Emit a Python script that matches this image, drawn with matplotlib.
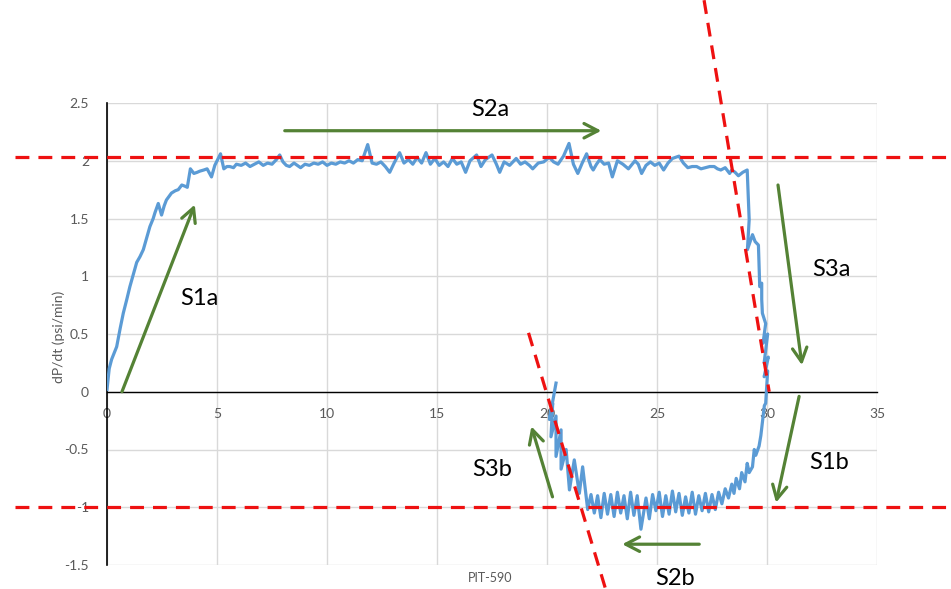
import matplotlib
matplotlib.use("Agg")
import matplotlib.pyplot as plt

plt.rcParams['font.family'] = ['Lato', 'DejaVu Sans']
plt.rcParams['lines.scale_dashes'] = False

# ---- data -------------------------------------------------------------
rise_x = [0, 0.1, 0.21, 0.44, 0.6, 0.74, 0.9, 1.04, 1.2, 1.35, 1.5, 1.65, 1.8, 1.95, 2.1,
          2.18, 2.33, 2.48, 2.6, 2.7, 2.93, 3.1, 3.24, 3.4, 3.54, 3.65, 3.79, 3.95, 4.1,
          4.22, 4.4, 4.55, 4.75, 4.9, 5.16, 5.31, 5.45, 5.58, 5.75, 5.88]
rise_y = [0.02, 0.2, 0.28, 0.39, 0.55, 0.68, 0.8, 0.91, 1.02, 1.12, 1.17, 1.23, 1.33, 1.43, 1.5,
          1.55, 1.63, 1.53, 1.61, 1.66, 1.72, 1.74, 1.75, 1.79, 1.78, 1.77, 1.93, 1.89, 1.9,
          1.91, 1.92, 1.93, 1.86, 1.96, 2.06, 1.93, 1.95, 1.95, 1.94, 1.97]

plateau_x = [6.1, 6.3, 6.5, 6.7, 6.9, 7.1, 7.3, 7.5, 7.7, 7.85, 8.0, 8.15, 8.3, 8.5, 8.65, 8.8,
             9.0, 9.2, 9.4, 9.6, 9.8, 10.0, 10.2, 10.4, 10.6, 10.8, 11.0, 11.2, 11.4, 11.6,
             11.85, 12.05, 12.25, 12.45, 12.65, 12.85, 13.05, 13.3, 13.5, 13.7, 13.9, 14.1,
             14.3, 14.5, 14.7, 14.9, 15.1, 15.3, 15.5, 15.7, 15.9, 16.1, 16.3, 16.5, 16.8,
             17.0, 17.2, 17.5, 17.7, 17.85, 18.05, 18.3, 18.6, 18.8, 19.0, 19.2, 19.35, 19.6,
             19.85, 20.1, 20.3, 20.5, 20.75, 21.0, 21.2, 21.4, 21.6, 21.8, 22.0, 22.1, 22.25,
             22.4, 22.6, 22.8, 22.97, 23.2, 23.45, 23.7, 24.0, 24.15, 24.3, 24.5, 24.7, 24.9,
             25.1, 25.3, 25.5, 25.7, 26.0, 26.2, 26.4, 26.6, 26.8, 27.0, 27.2, 27.4, 27.6,
             27.75, 27.9, 28.1, 28.3, 28.4, 28.55, 28.7, 28.9, 29.1]
plateau_y = [1.96, 1.98, 1.95, 1.97, 1.99, 1.96, 1.98, 1.97, 2.01, 2.05, 1.99, 1.96, 1.95, 1.98,
             1.96, 1.94, 1.97, 1.96, 1.98, 1.97, 1.99, 1.96, 1.98, 1.97, 1.99, 1.98, 2.00, 1.98,
             2.01, 2.00, 2.14, 1.98, 1.97, 1.99, 1.95, 1.90, 1.98, 2.07, 1.98, 2.01, 1.97, 2.03,
             1.98, 2.07, 1.97, 2.02, 1.96, 1.99, 1.95, 2.02, 1.97, 1.99, 1.90, 2.00, 2.05, 1.95,
             2.01, 2.05, 1.97, 1.90, 1.99, 1.96, 2.02, 1.97, 1.99, 1.96, 1.93, 1.98, 1.99, 2.03,
             1.99, 1.97, 2.04, 2.15, 1.97, 1.89, 1.98, 2.06, 1.95, 1.92, 1.97, 2.01, 1.97, 1.98,
             1.86, 2.00, 1.97, 1.93, 2.00, 1.97, 1.89, 1.96, 1.99, 1.96, 1.98, 1.92, 1.98, 2.02,
             2.04, 1.98, 1.94, 1.95, 1.95, 1.93, 1.94, 1.95, 1.95, 1.93, 1.92, 1.94, 1.89, 1.92,
             1.90, 1.87, 1.90, 1.92]

drop_x = [29.19, 29.11, 29.34, 29.46, 29.61, 29.67, 29.76, 29.76, 29.79, 29.94, 29.82, 30.03,
          29.87, 30.06, 29.87, 30.03, 29.94, 29.88, 29.80, 29.72, 29.64, 29.49, 29.42, 29.34,
          29.19, 29.10, 29.0, 28.85, 28.75, 28.6, 28.5, 28.4, 28.25, 28.1]
drop_y = [1.49, 1.23, 1.36, 1.30, 1.27, 0.91, 0.94, 0.80, 0.68, 0.59, 0.42, 0.50, 0.25, 0.30,
          0.13, 0.18, -0.10, -0.12, -0.25, -0.38, -0.47, -0.55, -0.50, -0.65, -0.70, -0.62,
          -0.78, -0.70, -0.84, -0.75, -0.88, -0.80, -0.92, -0.84]

bottom_x = [27.95, 27.8, 27.65, 27.5, 27.35, 27.2, 27.05, 26.9, 26.75, 26.6, 26.45, 26.3, 26.15,
            26.0, 25.85, 25.7, 25.55, 25.4, 25.25, 25.1, 24.95, 24.8, 24.65, 24.5, 24.27, 24.1,
            23.95, 23.8, 23.65, 23.5, 23.35, 23.2, 23.05, 22.9, 22.75, 22.6, 22.45, 22.3, 22.15,
            22.0, 21.85]
bottom_y = [-0.97, -0.87, -1.02, -0.89, -1.04, -0.88, -1.03, -0.90, -1.06, -0.87, -1.05, -0.91,
            -1.07, -0.88, -1.04, -0.86, -1.06, -0.90, -1.08, -0.87, -1.03, -0.89, -1.10, -0.92,
            -1.19, -0.90, -1.07, -0.87, -1.10, -0.90, -1.05, -0.87, -1.08, -0.89, -1.06, -0.88,
            -1.09, -0.90, -1.05, -0.89, -1.02]

return_x = [21.62, 21.47, 21.24, 21.02, 20.87, 20.64, 20.64, 20.41, 20.41, 20.18, 20.26, 20.11, 20.41]
return_y = [-0.65, -0.88, -0.59, -0.85, -0.50, -0.67, -0.33, -0.56, -0.21, -0.39, -0.10, -0.24, 0.075]

x_ticks = [0, 5, 10, 15, 20, 25, 30, 35]
y_ticks = [-1.5, -1, -0.5, 0, 0.5, 1, 1.5, 2, 2.5]
y_tick_labels = ['-1.5', '-1', '-0.5', '0', '0.5', '1', '1.5', '2', '2.5']

# reference (red dashed) lines
h_levels = [2.03, -1.0]
diag1_x = [27.14, 30.1]
diag1_y = [3.39, 0.0]
diag2_x = [19.16, 22.65]
diag2_y = [0.51, -1.70]

# annotations: (label, label_x, label_y, arrow start, arrow end)
stage_labels = ['S1a', 'S2a', 'S3a', 'S1b', 'S2b', 'S3b']
label_x = [4.2, 17.4, 32.95, 32.8, 25.8, 17.5]
label_y = [0.81, 2.44, 1.06, -0.61, -1.62, -0.67]
arrow_start = [(0.68, 0.0), (8.08, 2.26), (30.5, 1.79), (31.46, -0.04), (26.92, -1.32), (20.25, -0.91)]
arrow_end = [(3.99, 1.62), (22.47, 2.26), (31.59, 0.23), (30.41, -0.96), (23.42, -1.32), (19.29, -0.30)]

# ---- figure -----------------------------------------------------------
W, H = 951, 589
fig = plt.figure(figsize=(W / 100, H / 100), dpi=100)
ax = fig.add_axes([107 / W, 1 - 565 / H, 770 / W, 462 / H])

xs = rise_x + plateau_x + drop_x + bottom_x + return_x
ys = rise_y + plateau_y + drop_y + bottom_y + return_y

ax.set_xlim(0, 35)
ax.set_ylim(-1.5, 2.5)
ax.set_xticks(x_ticks)
ax.set_yticks(y_ticks)
ax.set_yticklabels(y_tick_labels)
ax.grid(True, color='#d9d9d9', lw=1.0)
ax.set_axisbelow(True)

for s in ['top', 'right']:
    ax.spines[s].set_visible(False)
ax.spines['bottom'].set_position(('data', 0))
ax.spines['bottom'].set_color('black')
ax.spines['bottom'].set_linewidth(1.0)
ax.spines['left'].set_color('black')
ax.spines['left'].set_linewidth(1.2)
ax.tick_params(axis='both', length=0, labelsize=10, labelcolor='#595959')
ax.tick_params(axis='x', pad=12)
ax.tick_params(axis='y', pad=13)

ax.plot(xs, ys, color='#5b9bd5', lw=2.3, zorder=3, solid_joinstyle='round')

red = '#ee1111'
for lv in h_levels:
    ax.plot([-4.2, 40], [lv, lv], color=red, lw=2.3, dashes=(10, 6.5), clip_on=False, zorder=4)
ax.plot(diag1_x, diag1_y, color=red, lw=2.3, dashes=(10, 6.5), clip_on=False, zorder=4)
ax.plot(diag2_x, diag2_y, color=red, lw=2.3, dashes=(10, 6.5), clip_on=False, zorder=4)

green = '#548235'
for lab, lx, ly, st, en in zip(stage_labels, label_x, label_y, arrow_start, arrow_end):
    ax.annotate('', xy=en, xytext=st, annotation_clip=False,
                arrowprops=dict(arrowstyle='->, head_length=0.5, head_width=0.26',
                                color=green, lw=2.3, shrinkA=0, shrinkB=0,
                                mutation_scale=20), zorder=5)
    ax.text(lx, ly, lab, fontsize=17, ha='center', va='center', color='black',
            clip_on=False, zorder=6)

fig.text(490 / W, 1 - 578 / H, 'PIT-590', fontsize=9, color='#595959',
         ha='center', va='center')
fig.text(59 / W, 1 - 337 / H, 'dP/dt (psi/min)', fontsize=10, color='#595959',
         ha='center', va='center', rotation=90)

fig.savefig('out.png', dpi=100)
